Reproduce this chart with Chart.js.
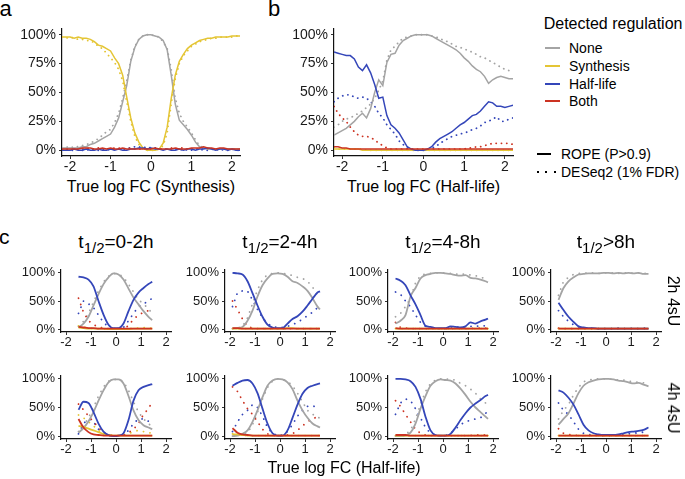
<!DOCTYPE html>
<html>
<head>
<meta charset="utf-8">
<script src="https://cdn.jsdelivr.net/npm/chart.js@4.4.1/dist/chart.umd.min.js"></script>
<style>
  body { margin: 0; width: 685px; height: 479px; position: relative; overflow: hidden; background: #fff;
         font-family: "Liberation Sans", Arial, sans-serif; color: #000; }
  canvas { position: absolute; }
  .t { position: absolute; white-space: nowrap; }
  .mid { transform: translateX(-50%); }
  .t sub { font-size: 15px; vertical-align: -5px; line-height: 0; }
  .key { position: absolute; height: 2px; }
</style>
</head>
<body>
<script>
// ---- labels ----
const regulations = ['None', 'Synthesis', 'Half-life', 'Both'];
const regColors = ['#a4a4a4', '#e4c535', '#3446b9', '#cc3322'];
const methods = ['ROPE (P>0.9)', 'DESeq2 (1% FDR)'];
const halfLifeBins = ['0-2h', '2-4h', '4-8h', '>8h'];
const labelings = ['2h 4sU', '4h 4sU'];

// ---- ticks ----
const xTicks = [-2, -1, 0, 1, 2];
const yTicksAB = [0, 25, 50, 75, 100];
const yTicksC = [0, 50, 100];

// ---- panel a / b x grid ----
const xAB = [-2.2,-2.1,-2.0,-1.9,-1.8,-1.7,-1.6,-1.5,-1.4,-1.3,-1.2,-1.1,-1.0,-0.9,-0.8,-0.7,-0.6,-0.5,-0.4,-0.3,-0.2,-0.1,
             0,0.1,0.2,0.3,0.4,0.5,0.6,0.7,0.8,0.9,1.0,1.1,1.2,1.3,1.4,1.5,1.6,1.7,1.8,1.9,2.0,2.1,2.2];

// panel a (true log FC synthesis), % of genes
const aNone = [2,2,2,2,2,3,3,5,6,8,10,12,14,20,28,42,56,77,89,96,99,100,100,99,98,95,87,65,40,26,22,18,13,7,3,2,1,1,1,1,1,1,1,1,1];
const aSyn  = [98,98,98,97,98,97,97,96,94,91,90,88,86,80,75,65,46,28,15,7,2,0,0,0,1,6,20,45,65,77,83,88,91,93,95,96,97,97,98,98,98,98,99,99,99];
const aHalf = [0,0,0,1,0,0,1,0,0,1,0,0,1,0,1,0,0,1,1,2,2,1,2,1,1,0,1,0,0,1,0,1,1,0,1,1,2,1,0,1,1,0,1,0,0];
const aBoth = [1,1,1,1,1,2,2,2,1,1,2,1,2,1,1,2,1,1,1,1,1,1,1,2,1,1,1,1,2,1,1,1,2,2,2,3,2,2,1,2,2,1,1,1,1];
const aNoneDot = [2,3,2,3,3,4,5,6,8,10,13,16,18,24,32,45,60,78,90,96,99,100,100,99,98,94,88,70,45,32,25,20,15,9,4,2,2,1,1,1,1,1,1,1,1];
const aSynDot  = [98,97,98,97,96,96,95,95,93,90,88,84,80,76,70,60,42,25,12,5,1,0,0,0,1,4,15,40,62,75,82,86,90,92,94,95,96,97,97,98,98,98,98,99,99];
const aHalfDot = [0,1,0,0,1,0,0,1,0,0,1,1,0,1,1,1,2,2,3,3,2,3,2,2,1,1,1,1,1,0,1,0,0,1,1,0,0,1,0,1,0,0,1,0,0];
const aBothDot = [1,1,2,1,1,1,2,1,1,2,1,1,1,2,2,1,1,2,1,1,1,1,1,1,1,1,1,2,1,2,2,1,1,1,1,2,1,1,1,1,1,1,1,1,1];

// panel b (true log FC half-life)
const bNone = [13,15,17,19,22,25,29,32,28,36,50,61,56,76,83,84,91,95,97,99,100,100,100,100,99,97,95,93,91,89,87,84,80,77,73,70,68,64,58,61,63,64,63,62,62];
const bSyn  = [1,1,1,1,1,1,1,0,0,0,0,0,0,0,0,0,0,0,0,0,0,0,0,0,0,0,0,0,0,0,0,0,0,0,0,0,0,0,0,0,0,0,0,0,0];
const bHalf = [85,84,83,82,82,79,72,69,74,67,57,45,46,30,22,19,15,9,3,1,0,0,0,1,3,7,10,12,14,16,19,22,24,27,30,31,34,38,42,41,38,38,37,38,39];
const bBoth = [3,3,2,2,1,1,1,1,1,1,1,1,1,1,1,1,1,1,1,1,1,1,1,1,1,1,1,1,1,1,1,1,1,1,1,1,1,1,1,1,1,1,1,1,1];
const bNoneDot = [20,22,25,27,28,30,32,34,37,40,45,52,60,78,87,90,94,97,98,99,100,100,100,100,99,98,97,95,94,92,90,89,88,86,85,83,81,80,78,76,74,72,70,69,68];
const bSynDot  = [2,1,1,1,1,1,1,1,0,0,0,0,0,0,0,0,0,0,0,0,0,0,0,0,0,0,0,0,0,0,0,0,0,0,0,0,0,0,0,0,0,0,0,0,0];
const bHalfDot = [42,45,47,48,48,46,45,46,45,42,38,32,28,22,18,14,8,5,2,1,0,0,0,1,2,3,6,8,10,12,13,14,15,16,18,19,21,24,25,27,29,25,25,27,28];
const bBothDot = [38,32,28,25,20,16,13,12,12,11,9,6,4,2,1,1,1,1,1,1,1,1,1,1,1,1,1,1,1,1,1,1,1,2,2,3,3,4,5,6,6,6,6,6,5];

// ---- panel c x grids (one per half-life bin) ----
const xC1 = [-1.5,-1.3,-1.1,-0.9,-0.7,-0.5,-0.3,-0.1,0.1,0.3,0.5,0.7,0.9,1.1,1.3,1.45];
const xC2 = [-1.9,-1.7,-1.5,-1.3,-1.1,-0.9,-0.7,-0.5,-0.3,-0.1,0.1,0.3,0.5,0.7,0.9,1.1,1.3,1.5,1.6];
const xC3 = [-1.9,-1.7,-1.5,-1.3,-1.1,-0.9,-0.7,-0.5,-0.3,-0.1,0.1,0.3,0.5,0.7,0.9,1.1,1.3,1.5,1.7,1.8];
const xC4 = [-1.9,-1.7,-1.5,-1.3,-1.1,-0.9,-0.7,-0.5,-0.3,-0.1,0.1,0.3,0.5,0.7,0.9,1.1,1.3,1.5,1.7];

// 2h 4sU row
const c1None = [3,10,22,42,62,80,92,99,97,88,72,56,44,32,22,16];
const c1Syn  = [3,2,1,1,1,1,0,0,0,0,0,1,1,1,1,1];
const c1Half = [93,92,88,76,50,26,8,2,2,10,32,52,65,73,80,84];
const c1Both = [4,3,2,2,1,1,1,1,1,1,1,1,1,1,1,1];
const c1NoneDot = [5,14,28,48,68,84,94,99,98,92,80,66,52,45,36,28];
const c1SynDot  = [6,4,2,1,1,0,0,0,0,0,1,2,2,3,2,2];
const c1HalfDot = [28,50,45,38,25,12,4,1,1,3,15,28,40,45,50,55];
const c1BothDot = [55,30,15,8,4,2,1,1,1,1,6,18,25,30,33,36];

const c2None = [1,2,4,15,33,58,78,90,98,99,98,93,85,82,76,68,55,40,35];
const c2Syn  = [1,1,1,1,1,1,1,1,1,1,1,2,2,1,1,1,1,1,1];
const c2Half = [100,99,97,85,64,42,22,8,3,2,2,10,18,23,31,42,54,65,67];
const c2Both = [2,2,1,1,1,1,1,1,1,1,1,1,1,1,1,1,1,1,1];
const c2NoneDot = [1,2,5,20,45,70,88,97,99,100,99,98,95,92,90,85,75,60,55];
const c2SynDot  = [1,1,1,1,1,1,1,1,1,1,1,1,1,1,1,1,1,1,1];
const c2HalfDot = [40,65,68,68,52,35,20,10,5,3,3,5,8,12,18,24,30,38,40];
const c2BothDot = [50,35,18,5,2,1,1,1,1,1,1,1,1,1,1,1,1,1,1];

const c3None = [10,15,25,58,73,90,96,98,100,100,99,98,96,95,96,91,90,88,85,83];
const c3Syn  = [1,1,1,1,1,1,1,1,1,1,1,1,1,1,1,1,1,1,1,1];
const c3Half = [90,86,78,60,44,25,6,4,2,2,2,5,4,3,5,12,10,14,17,19];
const c3Both = [2,1,1,1,1,1,1,1,1,1,1,1,1,1,1,1,1,1,1,1];
const c3NoneDot = [22,28,40,55,82,95,98,99,100,100,100,99,98,97,98,96,95,92,90,88];
const c3SynDot  = [1,1,1,1,1,1,1,1,1,1,1,1,1,1,1,1,1,1,1,1];
const c3HalfDot = [66,62,50,40,25,12,5,2,1,1,1,2,3,4,4,5,5,6,6,7];
const c3BothDot = [12,3,2,1,1,1,1,1,1,1,1,1,1,1,1,1,2,2,2,2];

const c4None = [52,73,85,92,97,98,99,99,99,100,100,99,100,99,100,99,100,98,98];
const c4Syn  = [1,1,1,1,1,1,1,1,1,1,1,1,1,1,1,1,1,1,1];
const c4Half = [47,34,22,13,5,3,2,2,1,1,1,1,1,1,1,1,1,1,1];
const c4Both = [1,1,1,1,1,1,1,1,1,1,1,1,1,1,1,1,1,1,1];
const c4NoneDot = [60,85,92,97,99,99,100,100,99,100,100,100,99,100,100,99,100,99,99];
const c4SynDot  = [1,1,1,1,1,1,1,1,1,1,1,1,1,1,1,1,1,1,1];
const c4HalfDot = [33,22,14,8,4,2,2,1,1,1,1,1,2,1,1,2,1,2,1];
const c4BothDot = [2,1,1,1,1,1,1,1,1,1,1,1,1,1,1,1,1,1,1];

// 4h 4sU row
const d1None = [6,14,26,42,62,80,94,99,99,92,70,45,28,19,15,12];
const d1Syn  = [18,16,13,10,7,4,2,1,1,1,1,1,1,1,1,1];
const d1Half = [46,60,58,42,22,8,2,0,1,5,28,62,80,86,89,91];
const d1Both = [30,15,7,3,2,1,1,1,1,1,1,1,1,1,1,1];
const d1NoneDot = [8,18,32,50,70,86,96,99,99,95,80,60,42,30,22,16];
const d1SynDot  = [37,32,25,18,10,4,2,1,1,1,4,8,10,8,6,5];
const d1HalfDot = [4,22,30,25,12,4,1,0,0,2,10,22,30,30,26,22];
const d1BothDot = [56,46,35,25,15,6,2,1,1,2,6,12,22,38,48,60];

const d2None = [0,1,4,10,25,45,68,88,97,100,99,94,82,62,45,32,22,17,15];
const d2Syn  = [3,3,2,1,1,1,1,1,1,1,1,1,1,1,1,1,1,1,1];
const d2Half = [88,93,97,98,92,75,48,22,5,1,1,10,32,55,74,84,88,91,92];
const d2Both = [14,6,3,2,1,1,1,1,1,1,1,1,1,1,1,1,1,1,1];
const d2NoneDot = [0,1,3,5,20,42,65,85,96,100,99,96,88,75,60,45,38,35,30];
const d2SynDot  = [4,3,2,1,1,1,1,1,1,1,1,1,1,1,1,1,1,1,1];
const d2HalfDot = [8,25,38,45,55,50,35,15,5,1,2,8,20,35,45,52,53,50,48];
const d2BothDot = [86,78,62,48,38,25,12,4,1,1,1,2,4,10,18,25,30,34,30];

const d3None = [0,0,1,6,22,48,70,88,96,99,98,97,92,83,72,60,50,42,34,30];
const d3Syn  = [1,1,1,1,1,1,1,1,1,1,1,1,1,1,1,1,1,1,1,1];
const d3Half = [100,100,99,96,86,65,34,10,2,1,1,4,15,28,40,50,57,63,70,72];
const d3Both = [2,2,2,1,1,1,1,1,1,1,1,1,1,1,1,1,1,1,1,1];
const d3NoneDot = [0,1,3,10,30,55,78,92,98,100,100,99,98,92,88,82,75,65,58,55];
const d3SynDot  = [1,1,1,1,1,1,1,1,1,1,1,1,1,1,1,1,1,1,1,1];
const d3HalfDot = [38,58,65,62,48,32,15,5,1,1,1,5,12,20,25,28,30,32,40,42];
const d3BothDot = [62,52,38,25,12,5,2,1,1,1,1,1,1,1,1,1,2,2,2,2];

const d4None = [20,30,40,57,75,88,94,97,99,100,100,99,97,96,94,92,93,90,87];
const d4Syn  = [1,1,1,1,1,1,1,1,1,1,1,1,1,1,1,1,1,1,1];
const d4Half = [80,76,67,55,38,20,10,5,3,2,2,2,3,5,7,8,9,11,15];
const d4Both = [1,1,1,1,1,1,1,1,1,1,1,1,1,1,1,1,1,1,1];
const d4NoneDot = [30,45,55,72,85,95,98,99,100,100,100,99,98,98,96,95,94,93,90];
const d4SynDot  = [1,1,1,1,1,1,1,1,1,1,1,1,1,1,1,1,1,1,1];
const d4HalfDot = [58,45,38,25,12,5,3,2,2,1,1,2,2,3,4,5,6,7,8];
const d4BothDot = [13,5,3,2,1,1,1,1,1,1,1,1,1,1,1,1,1,1,1];

Chart.defaults.font.family = '"Liberation Sans", Arial, sans-serif';

// draw one facet; box = chart area in page pixels
function panel(box, xs, solid, dotted, yTicks, fs, smooth) {
  const YW = 45, XH = 22, PR = 10, PT = 12;
  const cv = document.createElement('canvas');
  cv.width = box.r - box.l + YW + PR;
  cv.height = box.b - box.t + PT + XH;
  cv.style.left = (box.l - YW) + 'px';
  cv.style.top = (box.t - PT) + 'px';
  document.body.appendChild(cv);

  const sets = [];
  regulations.forEach((reg, k) => {
    sets.push({
      label: reg + ' DESeq2',
      data: xs.map((x, i) => ({x: x, y: dotted[k][i]})),
      borderColor: regColors[k], borderWidth: 1.8,
      borderDash: smooth ? [0.1, 6.5] : [0.1, 5.2], borderCapStyle: 'round',
      pointRadius: 0, tension: 0, order: 20 - k
    });
    sets.push({
      label: reg + ' ROPE',
      data: xs.map((x, i) => ({x: x, y: solid[k][i]})),
      borderColor: regColors[k], borderWidth: smooth ? 1.8 : 1.5,
      cubicInterpolationMode: smooth ? 'monotone' : 'default',
      pointRadius: 0, tension: smooth ? 0.4 : 0, order: 10 - k
    });
  });

  const tickFont = {size: fs, lineHeight: 1};
  new Chart(cv, {
    type: 'line',
    data: {datasets: sets},
    options: {
      responsive: false, animation: false, devicePixelRatio: 1, events: [],
      layout: {padding: {left: 0, right: PR, top: PT, bottom: 0}},
      plugins: {legend: {display: false}, tooltip: {enabled: false}},
      scales: {
        x: {
          type: 'linear', min: -2.2, max: 2.2,
          afterBuildTicks: s => { s.ticks = xTicks.map(v => ({value: v})); },
          afterFit: s => { s.height = XH; },
          ticks: {font: tickFont, color: '#1a1a1a', padding: 1, maxRotation: 0, autoSkip: false, callback: v => String(v)},
          grid: {drawOnChartArea: false, drawTicks: true, tickLength: 3, tickColor: '#333', tickWidth: 1},
          border: {display: true, color: '#111', width: 1.2}
        },
        y: {
          type: 'linear', min: -5, max: 105,
          afterBuildTicks: s => { s.ticks = yTicks.map(v => ({value: v})); },
          afterFit: s => { s.width = YW; },
          ticks: {font: tickFont, color: '#1a1a1a', padding: 3, autoSkip: false, callback: v => v + '%'},
          grid: {drawOnChartArea: false, drawTicks: true, tickLength: 3, tickColor: '#333', tickWidth: 1},
          border: {display: true, color: '#111', width: 1.2}
        }
      }
    }
  });
}

// text placed by its baseline
function txt(html, x, base, size, cls) {
  const d = document.createElement('div');
  d.className = 't' + (cls ? ' ' + cls : '');
  d.innerHTML = html;
  d.style.fontSize = size + 'px';
  d.style.lineHeight = size + 'px';
  d.style.left = x + 'px';
  d.style.top = (base - 0.8465 * size) + 'px';
  document.body.appendChild(d);
  return d;
}

function vtxt(str, x, y, size) {
  const d = document.createElement('div');
  d.className = 't';
  d.textContent = str;
  d.style.fontSize = size + 'px';
  d.style.lineHeight = size + 'px';
  d.style.left = x + 'px';
  d.style.top = y + 'px';
  d.style.transform = 'translate(-50%,-50%) rotate(90deg)';
  document.body.appendChild(d);
}

function key(x, y, w, css) {
  const d = document.createElement('div');
  d.className = 'key';
  d.style.left = x + 'px';
  d.style.top = (y - 1) + 'px';
  d.style.width = w + 'px';
  d.style.background = css;
  document.body.appendChild(d);
}

// ---- top row ----
panel({l: 62, r: 240, t: 29, b: 156}, xAB, [aNone, aSyn, aHalf, aBoth], [aNoneDot, aSynDot, aHalfDot, aBothDot], yTicksAB, 14, false);
panel({l: 334, r: 513, t: 29, b: 156}, xAB, [bNone, bSyn, bHalf, bBoth], [bNoneDot, bSynDot, bHalfDot, bBothDot], yTicksAB, 14, false);
txt('a', -0.5, 17, 22);
txt('b', 268, 16.7, 22);
txt('True log FC (Synthesis)', 151, 192.7, 16, 'mid');
txt('True log FC (Half-life)', 423.5, 192.7, 16, 'mid');

// legend
txt('Detected regulation', 543.7, 29.3, 16);
const keyY = [48.3, 66, 83.5, 101.2];
regulations.forEach((reg, k) => {
  key(545, keyY[k], 15, regColors[k]);
  txt(reg, 569, keyY[k] + 5, 14);
});
key(537, 154, 14, '#000');
txt(methods[0], 561, 158.5, 14);
key(536.5, 171.7, 20, 'repeating-linear-gradient(to right, #000 0 2px, transparent 2px 8.5px)');
txt(methods[1], 561, 176.7, 14);

// ---- panel c ----
txt('c', -1, 243.5, 21);
const colL = [61, 225, 388, 551];
const rowBox = [{t: 270, b: 332}, {t: 376, b: 439}];
const colX = [xC1, xC2, xC3, xC4];
const solids = [
  [[c1None, c1Syn, c1Half, c1Both], [c2None, c2Syn, c2Half, c2Both], [c3None, c3Syn, c3Half, c3Both], [c4None, c4Syn, c4Half, c4Both]],
  [[d1None, d1Syn, d1Half, d1Both], [d2None, d2Syn, d2Half, d2Both], [d3None, d3Syn, d3Half, d3Both], [d4None, d4Syn, d4Half, d4Both]]
];
const dots = [
  [[c1NoneDot, c1SynDot, c1HalfDot, c1BothDot], [c2NoneDot, c2SynDot, c2HalfDot, c2BothDot], [c3NoneDot, c3SynDot, c3HalfDot, c3BothDot], [c4NoneDot, c4SynDot, c4HalfDot, c4BothDot]],
  [[d1NoneDot, d1SynDot, d1HalfDot, d1BothDot], [d2NoneDot, d2SynDot, d2HalfDot, d2BothDot], [d3NoneDot, d3SynDot, d3HalfDot, d3BothDot], [d4NoneDot, d4SynDot, d4HalfDot, d4BothDot]]
];
for (let r = 0; r < 2; r++) {
  for (let c = 0; c < 4; c++) {
    panel({l: colL[c], r: colL[c] + 110, t: rowBox[r].t, b: rowBox[r].b}, colX[c], solids[r][c], dots[r][c], yTicksC, 13, true);
  }
  vtxt(labelings[r], 673, (rowBox[r].t + rowBox[r].b) / 2, 16);
}
halfLifeBins.forEach((bin, c) => {
  const sep = bin.charAt(0) === '>' ? '&gt;' + bin.slice(1) : '=' + bin;
  txt('t<sub>1/2</sub>' + sep, colL[c] + 55, 248.5, 19, 'mid');
});
txt('True log FC (Half-life)', 344, 473.3, 16, 'mid');
</script>
</body>
</html>
